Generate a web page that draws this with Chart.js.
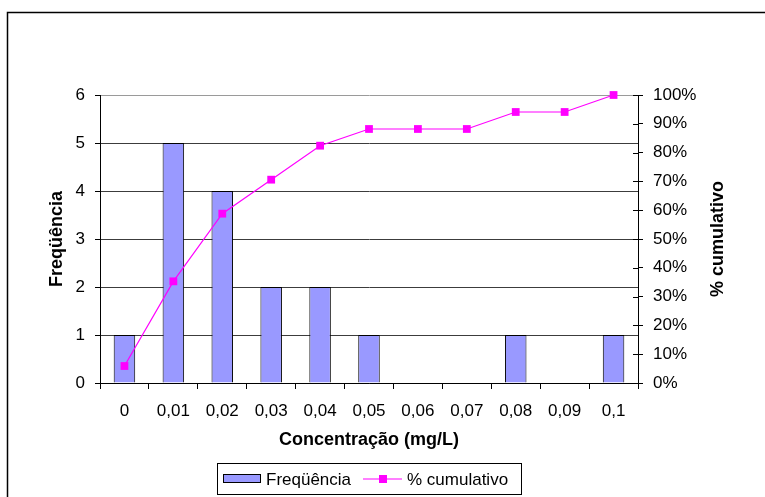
<!DOCTYPE html>
<html>
<head>
<meta charset="utf-8">
<script src="https://cdn.jsdelivr.net/npm/chart.js@4/dist/chart.umd.min.js"></script>
<style>
  html, body { margin: 0; padding: 0; background: #fff; }
  #wrap { width: 765px; height: 497px; }
</style>
</head>
<body>
<div id="wrap"><canvas id="c" width="765" height="497"></canvas></div>
<script>
// Concentration classes (mg/L)
const categories = ['0', '0,01', '0,02', '0,03', '0,04', '0,05', '0,06', '0,07', '0,08', '0,09', '0,1'];
// Frequency per class
const frequencia = [1, 5, 4, 2, 2, 1, 0, 0, 1, 0, 1];
// Cumulative percentage
const cumulativo = [5.9, 35.3, 58.8, 70.6, 82.4, 88.2, 88.2, 88.2, 94.1, 94.1, 100];

const FONT = 'Liberation Sans, Arial, Helvetica, sans-serif';
const BAR_FILL = '#9999ff';
const LINE_COLOR = '#ff00ff';
const RIGHT_TITLE = '% cumulativo';

// Outer frame, right axis title (read bottom-to-top), crossing ticks and the boxed legend
const decorations = {
  id: 'decorations',
  afterDraw(chart) {
    const ctx = chart.ctx;
    const area = chart.chartArea;
    ctx.save();
    // outer frame (top and left edges)
    ctx.strokeStyle = '#000';
    ctx.lineWidth = 1.5;
    ctx.beginPath();
    ctx.moveTo(765, 12.5);
    ctx.lineTo(7.5, 12.5);
    ctx.lineTo(7.5, 497);
    ctx.stroke();

    // inner half of the right axis ticks
    const y1 = chart.scales.y1;
    ctx.lineWidth = 1;
    ctx.beginPath();
    y1.ticks.forEach(t => {
      const y = Math.round(y1.getPixelForValue(t.value)) + 0.5;
      ctx.moveTo(area.right - 5, y);
      ctx.lineTo(area.right, y);
    });
    ctx.stroke();

    // right axis title
    ctx.save();
    ctx.translate(718, (area.top + area.bottom) / 2);
    ctx.rotate(-Math.PI / 2);
    ctx.fillStyle = '#000';
    ctx.font = 'bold 18px ' + FONT;
    ctx.textAlign = 'center';
    ctx.textBaseline = 'middle';
    ctx.fillText(RIGHT_TITLE, 0, 0);
    ctx.restore();

    // legend
    const lx = 217, ly = 463, lw = 304, lh = 31;
    ctx.fillStyle = '#fff';
    ctx.fillRect(lx, ly, lw, lh);
    ctx.strokeStyle = '#000';
    ctx.strokeRect(lx + 0.5, ly + 0.5, lw, lh);
    const cy = ly + lh / 2 + 0.5;
    ctx.fillStyle = BAR_FILL;
    ctx.fillRect(223.5, cy - 4.5, 37, 8);
    ctx.strokeRect(223.5, cy - 4.5, 37, 8);
    ctx.fillStyle = '#000';
    ctx.font = '17px ' + FONT;
    ctx.textBaseline = 'middle';
    ctx.textAlign = 'left';
    ctx.fillText(chart.data.datasets[1].label, 266, cy + 1);
    ctx.strokeStyle = LINE_COLOR;
    ctx.lineWidth = 1.2;
    ctx.beginPath();
    ctx.moveTo(363, cy);
    ctx.lineTo(402, cy);
    ctx.stroke();
    ctx.fillStyle = LINE_COLOR;
    ctx.fillRect(379, cy - 4, 8, 8);
    ctx.fillStyle = '#000';
    ctx.fillText(chart.data.datasets[0].label, 407, cy + 1);
    ctx.restore();
  }
};

new Chart(document.getElementById('c'), {
  type: 'bar',
  data: {
    labels: categories,
    datasets: [
      {
        type: 'line',
        label: '% cumulativo',
        data: cumulativo,
        yAxisID: 'y1',
        borderColor: LINE_COLOR,
        backgroundColor: LINE_COLOR,
        borderWidth: 1.2,
        pointStyle: 'rect',
        pointRadius: 5.5,
        pointBorderWidth: 0,
        tension: 0,
        clip: false,
        order: 0
      },
      {
        type: 'bar',
        label: 'Freqüência',
        data: frequencia,
        yAxisID: 'y',
        backgroundColor: BAR_FILL,
        borderColor: '#000',
        borderWidth: 1,
        barPercentage: 0.44,
        categoryPercentage: 1,
        order: 1
      }
    ]
  },
  options: {
    responsive: false,
    animation: false,
    devicePixelRatio: 1,
    layout: { padding: { left: 46, right: 36, top: 95, bottom: 46 } },
    plugins: {
      legend: { display: false },
      tooltip: { enabled: false }
    },
    scales: {
      x: {
        offset: true,
        grid: {
          offset: true,
          drawOnChartArea: false,
          drawTicks: true,
          tickLength: 6,
          tickColor: '#000'
        },
        border: { display: true, color: '#000', width: 1 },
        ticks: { color: '#000', padding: 12, font: { family: FONT, size: 17 }, maxRotation: 0 },
        title: {
          display: true,
          text: 'Concentração (mg/L)',
          color: '#000',
          padding: 0,
          font: { family: FONT, size: 18, weight: 'bold' }
        },
        afterFit(s) { s.height = 68; }
      },
      y: {
        position: 'left',
        min: 0,
        max: 6,
        ticks: { stepSize: 1, color: '#000', padding: 10, font: { family: FONT, size: 17 } },
        grid: {
          color: ctx => (ctx.tick && ctx.tick.value === 6 ? '#9a9a9a' : '#3c3c3c'),
          lineWidth: 1,
          tickLength: 5,
          tickColor: '#000'
        },
        border: { display: true, color: '#000', width: 1 },
        title: {
          display: true,
          text: 'Freqüência',
          color: '#000',
          padding: 0,
          font: { family: FONT, size: 18, weight: 'bold' }
        },
        afterFit(s) { s.width = 54; }
      },
      y1: {
        position: 'right',
        min: 0,
        max: 100,
        ticks: {
          stepSize: 10,
          color: '#000',
          padding: 10,
          font: { family: FONT, size: 17 },
          callback: v => v + '%'
        },
        grid: {
          drawOnChartArea: false,
          tickLength: 5,
          tickColor: '#000'
        },
        border: { display: true, color: '#000', width: 1 },
        title: { display: false },
        afterFit(s) { s.width = 91; }
      }
    }
  },
  plugins: [decorations]
});
</script>
</body>
</html>
